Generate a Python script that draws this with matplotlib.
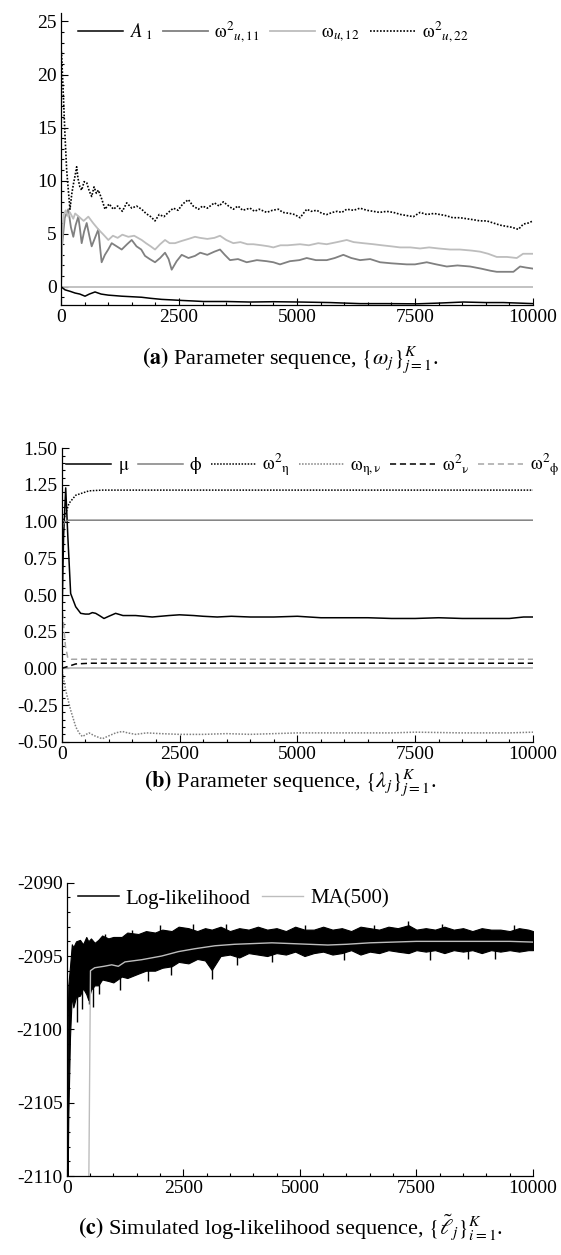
import numpy as np
import matplotlib
matplotlib.use("Agg")
import matplotlib.pyplot as plt
from matplotlib.ticker import MultipleLocator, FixedLocator, FuncFormatter

plt.rcParams['font.family'] = ['Liberation Serif', 'DejaVu Serif']
plt.rcParams['mathtext.fontset'] = 'stix'
plt.rcParams['axes.unicode_minus'] = False

# ---- panel (a): parameter sequence omega ----
w22_x = [0, 15, 50, 85, 120, 155, 190, 230, 260, 300, 332, 360, 400, 438, 490, 544, 600, 650, 700, 750,
         791, 860, 932, 1020, 1109, 1200, 1300, 1392, 1500, 1600, 1709, 1800, 1900, 1992, 2080, 2180, 2274,
         2380, 2480, 2580, 2698, 2800, 2910, 3000, 3100, 3250, 3350, 3440, 3550, 3651, 3750, 3850, 4005,
         4100, 4200, 4358, 4480, 4605, 4700, 4850, 4950, 5064, 5206, 5300, 5420, 5530, 5630, 5750, 5850,
         5950, 6054, 6200, 6336, 6480, 6618, 6750, 6900, 7042, 7200, 7330, 7466, 7607, 7750, 7900, 8031,
         8150, 8300, 8455, 8600, 8750, 8879, 9020, 9160, 9302, 9420, 9550, 9690, 9796, 9900, 10000]
w22_y = [22.5, 21.7, 18.0, 14.2, 11.0, 9.1, 7.3, 8.8, 9.6, 10.5, 11.3, 10.2, 9.4, 9.1, 9.9, 9.8, 9.0, 8.5, 9.4, 8.8,
         9.1, 8.3, 7.3, 7.8, 7.3, 7.6, 7.1, 7.9, 7.4, 7.6, 7.3, 6.9, 6.6, 6.2, 6.8, 6.6, 7.0,
         7.4, 7.2, 7.8, 8.2, 7.6, 7.3, 7.6, 7.4, 7.9, 7.6, 8.0, 7.6, 7.3, 7.6, 7.2, 7.4,
         7.1, 7.3, 7.0, 7.2, 7.3, 7.0, 6.9, 6.8, 6.5, 7.3, 7.1, 7.2, 6.9, 6.8, 7.0, 7.1,
         7.0, 7.3, 7.2, 7.4, 7.2, 7.1, 7.0, 7.1, 7.0, 6.8, 6.7, 6.6, 7.0, 6.8, 6.9, 6.8,
         6.7, 6.5, 6.5, 6.4, 6.3, 6.2, 6.2, 6.0, 5.8, 5.7, 5.6, 5.4, 5.9, 6.0, 6.2]

w12_x = [0, 25, 60, 100, 155, 190, 260, 300, 403, 480, 579, 680, 791, 900, 1003, 1100, 1200, 1300, 1427, 1550,
         1709, 1800, 1900, 1992, 2100, 2204, 2300, 2416, 2550, 2700, 2839, 2945, 3100, 3250, 3369, 3500,
         3651, 3800, 3950, 4075, 4250, 4400, 4499, 4650, 4800, 5064, 5250, 5450, 5630, 5850, 6054, 6200,
         6400, 6618, 6800, 7000, 7183, 7400, 7607, 7800, 8000, 8243, 8450, 8700, 8879, 9050, 9232, 9450,
         9656, 9790, 10000]
w12_y = [0.0, 5.0, 6.8, 7.2, 6.6, 7.0, 6.4, 6.9, 6.5, 6.2, 6.6, 6.0, 5.4, 4.9, 4.4, 4.8, 4.6, 4.9, 4.7, 4.8,
         4.4, 4.1, 3.8, 3.5, 4.0, 4.4, 4.1, 4.1, 4.3, 4.5, 4.7, 4.6, 4.5, 4.6, 4.8, 4.4,
         4.1, 4.2, 4.0, 4.0, 3.9, 3.8, 3.7, 3.9, 3.9, 4.0, 3.9, 4.1, 4.0, 4.2, 4.4, 4.2,
         4.1, 4.0, 3.9, 3.8, 3.7, 3.7, 3.6, 3.7, 3.6, 3.5, 3.5, 3.4, 3.3, 3.1, 2.8, 2.8,
         2.7, 3.1, 3.1]

w11_x = [0, 25, 80, 155, 210, 261, 310, 367, 400, 438, 490, 544, 600, 650, 720, 791, 830, 861, 930, 1000,
         1074, 1180, 1286, 1400, 1498, 1600, 1700, 1780, 1880, 1992, 2100, 2204, 2280, 2345, 2450, 2557,
         2700, 2839, 2950, 3100, 3250, 3369, 3470, 3581, 3750, 3934, 4150, 4358, 4500, 4640, 4850, 5050,
         5206, 5400, 5630, 5800, 5982, 6150, 6336, 6550, 6760, 7000, 7325, 7500, 7749, 7950, 8173, 8400,
         8667, 8900, 9100, 9232, 9400, 9585, 9726, 9850, 10000]
w11_y = [0.0, 4.0, 6.5, 7.3, 5.6, 4.7, 5.8, 6.6, 5.5, 4.1, 5.2, 6.0, 4.8, 3.8, 4.6, 5.4, 3.6, 2.3, 3.0, 3.5,
         4.1, 3.8, 3.5, 4.0, 4.4, 3.8, 3.5, 2.9, 2.6, 2.3, 2.7, 3.2, 2.6, 1.6, 2.4, 3.0,
         2.7, 2.9, 3.2, 3.0, 3.3, 3.5, 3.0, 2.5, 2.6, 2.3, 2.5, 2.4, 2.3, 2.1, 2.4, 2.5,
         2.7, 2.5, 2.5, 2.7, 3.0, 2.7, 2.5, 2.6, 2.3, 2.2, 2.1, 2.1, 2.3, 2.1, 1.9, 2.0,
         1.9, 1.7, 1.5, 1.4, 1.4, 1.4, 1.9, 1.8, 1.7]

a1_x = [0, 85, 200, 297, 400, 509, 600, 721, 850, 1003, 1150, 1286, 1500, 1709, 1900, 2133, 2350, 2557,
        2800, 3016, 3500, 4005, 4500, 5064, 5700, 6336, 6900, 7537, 8000, 8525, 9000, 9373, 9700, 10000]
a1_y = [0.0, -0.3, -0.45, -0.6, -0.7, -0.9, -0.7, -0.5, -0.7, -0.8, -0.85, -0.9, -0.95, -1.0, -1.1, -1.2,
        -1.25, -1.3, -1.35, -1.4, -1.4, -1.45, -1.42, -1.45, -1.5, -1.6, -1.6, -1.62, -1.55, -1.45, -1.5,
        -1.5, -1.55, -1.6]

# ---- panel (b): parameter sequence lambda ----
mu_x = [0, 40, 85, 130, 190, 297, 403, 500, 579, 650, 721, 800, 897, 1000, 1144, 1300, 1568, 1921, 2274,
        2500, 2800, 3000, 3300, 3600, 4000, 4500, 5000, 5500, 6000, 6500, 7000, 7500, 8000, 8500, 9000,
        9500, 9800, 10000]
mu_y = [0.25, 0.9, 1.23, 0.9, 0.51, 0.42, 0.375, 0.37, 0.37, 0.38, 0.375, 0.36, 0.34, 0.355, 0.375, 0.36,
        0.36, 0.35, 0.36, 0.365, 0.36, 0.355, 0.35, 0.355, 0.35, 0.35, 0.355, 0.345, 0.345, 0.345, 0.34,
        0.34, 0.345, 0.34, 0.34, 0.34, 0.35, 0.35]
phi_x = [0, 60, 150, 10000]
phi_y = [0.95, 1.0, 1.01, 1.01]
eta2_x = [0, 50, 155, 297, 579, 861, 10000]
eta2_y = [0.95, 1.02, 1.125, 1.18, 1.21, 1.215, 1.215]
etanu_x = [0, 85, 190, 300, 367, 438, 520, 579, 700, 861, 1000, 1144, 1286, 1400, 1568, 1800, 2100, 2500,
           3000, 3500, 4000, 5000, 6000, 7000, 7500, 8500, 9500, 10000]
etanu_y = [0.0, -0.15, -0.285, -0.4, -0.44, -0.465, -0.45, -0.44, -0.46, -0.48, -0.46, -0.44, -0.43, -0.44,
           -0.45, -0.44, -0.445, -0.45, -0.45, -0.445, -0.45, -0.44, -0.44, -0.44, -0.435, -0.44, -0.44, -0.435]
nu2_x = [0, 155, 297, 600, 10000]
nu2_y = [0.0, 0.015, 0.03, 0.035, 0.035]
phi2_x = [0, 40, 80, 130, 200, 10000]
phi2_y = [0.45, 0.3, 0.15, 0.07, 0.062, 0.062]

# ---- panel (c): simulated log-likelihood (band envelope + spikes) ----
ll_x = [20, 34, 71, 110, 142, 200, 285, 350, 420, 464, 520, 600, 678, 760, 893, 1000, 1180, 1300, 1536,
        1700, 1894, 2050, 2252, 2400, 2610, 2800, 2967, 3110, 3300, 3500, 3700, 3900, 4100, 4300, 4500,
        4700, 4900, 5100, 5300, 5500, 5700, 5900, 6100, 6300, 6500, 6700, 6900, 7100, 7330, 7500, 7700,
        7900, 8100, 8300, 8500, 8700, 8900, 9100, 9300, 9500, 9700, 9900, 10000]
ll_hi = [-2100.0, -2097.0, -2095.7, -2094.2, -2094.4, -2094.0, -2093.9, -2094.2, -2093.7, -2094.0, -2093.8,
         -2094.1, -2093.9, -2093.6, -2093.8, -2093.7, -2093.7, -2093.4, -2093.5, -2093.3, -2093.4, -2093.2,
         -2093.3, -2093.0, -2093.1, -2093.3, -2093.1, -2093.2, -2093.0, -2093.3, -2093.1, -2093.2, -2093.0,
         -2093.2, -2093.1, -2093.3, -2093.0, -2093.2, -2093.2, -2093.0, -2093.2, -2093.1, -2093.3, -2093.0,
         -2093.1, -2093.2, -2093.0, -2093.1, -2092.9, -2093.2, -2093.1, -2093.2, -2093.0, -2093.2, -2093.1,
         -2093.3, -2093.1, -2093.2, -2093.2, -2093.3, -2093.1, -2093.2, -2093.3]
ll_lo = [-2110.5, -2106.0, -2100.5, -2097.6, -2098.5, -2097.8, -2097.7, -2097.2, -2097.6, -2098.0, -2097.3,
         -2097.0, -2097.0, -2096.6, -2096.7, -2096.8, -2096.4, -2096.5, -2096.2, -2096.0, -2096.0, -2095.8,
         -2095.7, -2095.4, -2095.5, -2095.2, -2095.3, -2095.95, -2095.0, -2094.9, -2095.1, -2094.8, -2094.9,
         -2095.0, -2094.8, -2094.9, -2094.7, -2095.0, -2094.8, -2094.7, -2094.9, -2094.8, -2094.6, -2094.9,
         -2094.7, -2094.8, -2094.6, -2094.7, -2094.8, -2094.6, -2094.7, -2094.6, -2094.8, -2094.6, -2094.7,
         -2094.6, -2094.8, -2094.6, -2094.7, -2094.6, -2094.7, -2094.6, -2094.6]
spike_x = [230, 330, 470, 560, 700, 820, 1150, 1390, 1750, 2000, 2240, 2700, 3110, 3420, 3650, 4400,
           5100, 5950, 6600, 7330, 7800, 8050, 8600, 9180, 9600]
spike_y = [-2099.5, -2098.6, -2098.3, -2098.5, -2097.6, -2093.5, -2097.3, -2093.2, -2096.7, -2092.9, -2096.3,
           -2092.8, -2096.6, -2092.8, -2095.6, -2095.4, -2092.9, -2095.3, -2092.9, -2092.6, -2095.3, -2092.8,
           -2095.2, -2095.2, -2092.9]
ma_x = [470, 510, 600, 800, 965, 1107, 1250, 1609, 2037, 2394, 2752, 3181, 3600, 4000, 4400, 4800, 5200,
        5600, 6000, 6500, 7000, 7500, 8000, 8500, 9000, 9500, 10000]
ma_y = [-2112.0, -2096.0, -2095.8, -2095.7, -2095.6, -2095.7, -2095.4, -2095.25, -2095.0, -2094.7, -2094.5,
        -2094.3, -2094.2, -2094.15, -2094.1, -2094.15, -2094.2, -2094.25, -2094.2, -2094.1, -2094.05,
        -2094.0, -2094.0, -2094.0, -2094.0, -2094.0, -2094.05]

x_ticks = [0, 2500, 5000, 7500, 10000]
LG = '#bdbdbd'
MG = '#808080'
DOT = (0, (1, 1))
DASH = (0, (4, 2.5))

W, H = 561, 1255
fig = plt.figure(figsize=(W / 100, H / 100), dpi=100)


def box(l, r, t, b):
    return [l / W, 1 - b / H, (r - l) / W, (b - t) / H]


def style(ax, ymajor, yminor):
    for s in ['top', 'right']:
        ax.spines[s].set_visible(False)
    for s in ['left', 'bottom']:
        ax.spines[s].set_linewidth(0.9)
    ax.set_xlim(0, 10000)
    ax.xaxis.set_major_locator(FixedLocator(x_ticks))
    ax.xaxis.set_minor_locator(MultipleLocator(500))
    ax.yaxis.set_major_locator(MultipleLocator(ymajor))
    ax.yaxis.set_minor_locator(MultipleLocator(yminor))
    ax.tick_params(which='both', direction='in', labelsize=14, width=0.8)
    ax.tick_params(which='major', length=5, pad=3)
    ax.tick_params(which='minor', length=2.5)


leg_kw = dict(loc='center left', frameon=False, handlelength=2.4, handletextpad=0.35,
              columnspacing=0.55, borderaxespad=0, borderpad=0)
cap_kw = dict(ha='center', va='center', fontsize=16)

# (a)
ax1 = fig.add_axes(box(61, 533, 13, 305))
ax1.axhline(0, color=LG, lw=1.3)
ax1.plot(a1_x, a1_y, color='black', lw=1.1, label=r'$A_{\ 1}$')
ax1.plot(w11_x, w11_y, color=MG, lw=1.3, label=r'$\mathrm{\omega}^{2}{}_{u,11}$')
ax1.plot(w12_x, w12_y, color=LG, lw=1.3, label=r'$\mathrm{\omega}_{u,12}$')
ax1.plot(w22_x, w22_y, color='black', lw=1.2, ls=DOT, label=r'$\mathrm{\omega}^{2}{}_{u,22}$')
ax1.set_ylim(-1.73, 25.8)
style(ax1, 5, 1)
ax1.legend(ncol=4, bbox_to_anchor=(0.036, 0.937), fontsize=13.5, **leg_kw)
fig.text(0.517, 1 - 359 / H, r'$\mathbf{(a)}$ Parameter sequence, $\{\omega_j\}_{j=1}^{K}$.', **cap_kw)

# (b)
ax2 = fig.add_axes(box(61.7, 533, 448.3, 741.7))
ax2.axhline(0, color=LG, lw=1.3)
ax2.plot(mu_x, mu_y, color='black', lw=1.1, label=r'$\mathrm{\mu}$')
ax2.plot(phi_x, phi_y, color=MG, lw=1.1, label=r'$\mathrm{\phi}$')
ax2.plot(eta2_x, eta2_y, color='black', lw=1.1, ls=DOT, label=r'$\mathrm{\omega}^{2}{}_{\mathrm{\eta}}$')
ax2.plot(etanu_x, etanu_y, color=MG, lw=1.1, ls=DOT, label=r'$\mathrm{\omega}_{\mathrm{\eta},\mathrm{\nu}}$')
ax2.plot(nu2_x, nu2_y, color='black', lw=1.1, ls=DASH, label=r'$\mathrm{\omega}^{2}{}_{\mathrm{\nu}}$')
ax2.plot(phi2_x, phi2_y, color='#a6a6a6', lw=1.1, ls=DASH, label=r'$\mathrm{\omega}^{2}{}_{\mathrm{\phi}}$')
ax2.set_ylim(-0.5, 1.5)
style(ax2, 0.25, 0.05)
ax2.yaxis.set_major_formatter(FuncFormatter(lambda v, p: '%.2f' % v))
lb = dict(leg_kw, columnspacing=0.45)
ax2.legend(ncol=6, bbox_to_anchor=(0.009, 0.943), fontsize=13.5, **lb)
fig.text(0.517, 1 - 783 / H, r'$\mathbf{(b)}$ Parameter sequence, $\{\lambda_j\}_{j=1}^{K}$.', **cap_kw)

# (c)
ax3 = fig.add_axes(box(66.7, 533, 882.7, 1176))
ax3.fill_between(ll_x, ll_lo, ll_hi, color='black', lw=0.8, edgecolor='black')
ax3.vlines(spike_x, -2094.3, spike_y, color='black', lw=1.0)
ax3.plot([], [], color='black', lw=1.1, label='Log-likelihood')
ax3.plot(ma_x, ma_y, color=LG, lw=1.0, label='MA(500)')
ax3.set_ylim(-2110, -2090)
style(ax3, 5, 1)
ax3.yaxis.set_major_formatter(FuncFormatter(lambda v, p: '%d' % round(v)))
ax3.legend(ncol=2, bbox_to_anchor=(0.024, 0.945), fontsize=15, handlelength=1.95, **{k: v for k, v in leg_kw.items() if k != 'handlelength'})
fig.text(0.517, 1 - 1227 / H,
         r'$\mathbf{(c)}$ Simulated log-likelihood sequence, $\{\tilde{\ell}_j\}_{i=1}^{K}$.', **cap_kw)

fig.savefig('out.png', dpi=100)
